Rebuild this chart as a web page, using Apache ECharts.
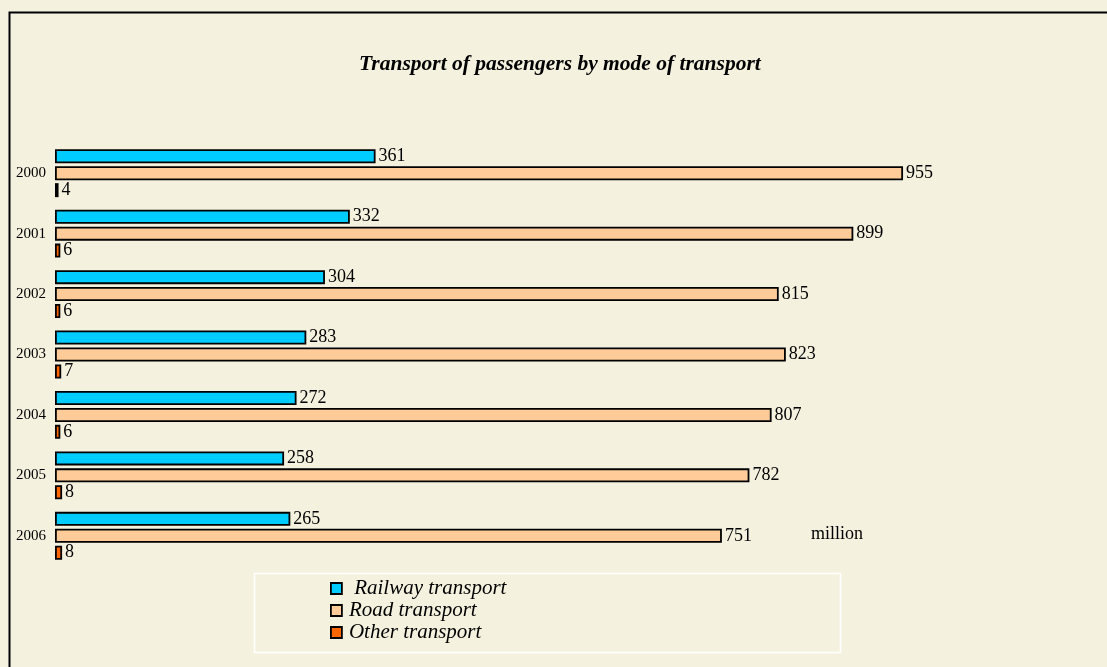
<!DOCTYPE html>
<html>
<head>
<meta charset="utf-8">
<script src="https://cdn.jsdelivr.net/npm/echarts@6/dist/echarts.min.js"></script>
<style>
  html, body { margin: 0; padding: 0; background: #F4F2DF; }
  #main { width: 1107px; height: 667px; }
</style>
</head>
<body>
<div id="main"></div>
<script>
// years, top to bottom
var years = ['2000', '2001', '2002', '2003', '2004', '2005', '2006'];
// million passengers
var railway = [361, 332, 304, 283, 272, 258, 265];
var road = [955, 899, 815, 823, 807, 782, 751];
var other = [4, 6, 6, 7, 6, 8, 8];

var serif = '"Liberation Serif", "DejaVu Serif", serif';

var chart = echarts.init(document.getElementById('main'));

function barSeries(name, data, color) {
  return {
    name: name,
    type: 'bar',
    data: data,
    barWidth: 14,
    barGap: '21%',
    itemStyle: { color: color, borderColor: '#000', borderWidth: 1.8 },
    label: {
      show: true,
      position: 'right',
      distance: 3,
      color: '#000',
      fontFamily: serif,
      fontSize: 18
    },
    animation: false
  };
}

var option = {
  backgroundColor: '#F4F2DF',
  title: {
    text: 'Transport of passengers by mode of transport',
    left: 359,
    top: 53,
    padding: 0,
    textStyle: {
      fontFamily: serif,
      fontStyle: 'italic',
      fontWeight: 'bold',
      fontSize: 21.5,
      color: '#000'
    }
  },
  grid: { left: 55, right: 164, top: 143, bottom: 101 },
  xAxis: {
    type: 'value',
    min: 0,
    max: 1000,
    show: false
  },
  yAxis: {
    type: 'category',
    data: years,
    inverse: true,
    axisLine: { show: false },
    axisTick: { show: false },
    axisLabel: { color: '#000', fontFamily: serif, fontSize: 15, margin: 9 }
  },
  legend: {
    orient: 'vertical',
    left: 330,
    top: 578,
    padding: 0,
    itemWidth: 11,
    itemHeight: 11,
    itemGap: 1,
    icon: 'rect',
    data: [
      { name: 'Railway transport', itemStyle: { borderColor: '#000', borderWidth: 1.8 } },
      { name: 'Road transport', itemStyle: { borderColor: '#000', borderWidth: 1.8 } },
      { name: 'Other transport', itemStyle: { borderColor: '#000', borderWidth: 1.8 } }
    ],
    formatter: function (n) { return n === 'Railway transport' ? ' ' + n : n; },
    textStyle: { fontFamily: serif, fontStyle: 'italic', fontSize: 21, color: '#000', padding: [0, 0, 0, 2] }
  },
  graphic: [
    {
      type: 'rect',
      left: 7, top: 10,
      shape: { width: 1110, height: 670 },
      style: { fill: 'none', stroke: '#000', lineWidth: 2 },
      z: 0
    },
    {
      type: 'rect',
      left: 252, top: 571,
      shape: { width: 586, height: 79 },
      style: { fill: 'none', stroke: '#fff', lineWidth: 1.5 },
      z: 0
    },
    {
      type: 'text',
      left: 811, top: 525,
      style: { text: 'million', fontFamily: serif, fontSize: 18, fill: '#000' }
    }
  ],
  series: [
    barSeries('Railway transport', railway, '#00CCFF'),
    barSeries('Road transport', road, '#FFCC99'),
    barSeries('Other transport', other, '#FF6600')
  ]
};

chart.setOption(option);
</script>
</body>
</html>
